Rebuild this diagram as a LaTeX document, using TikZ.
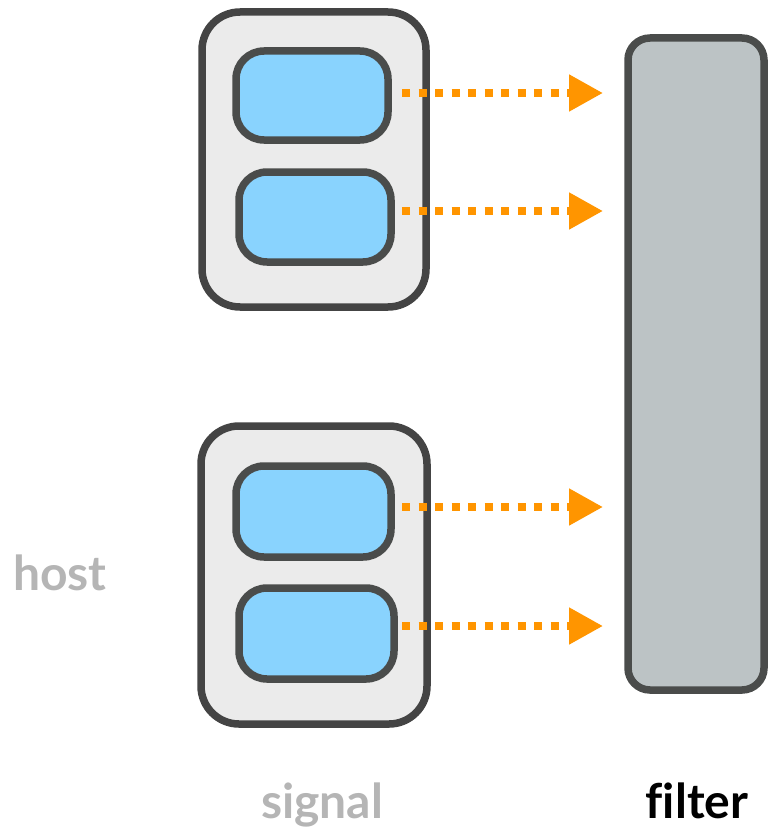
\documentclass[tikz,border=0pt]{standalone}
\usepackage{fontspec}
\setmainfont{Lato}[Ligatures=CommonOff]
\usetikzlibrary{arrows.meta,calc}
\definecolor{outerfill}{HTML}{EBEBEB}
\definecolor{outerdraw}{HTML}{444444}
\definecolor{innerfill}{HTML}{89D3FE}
\definecolor{innerdraw}{HTML}{4A4C4B}
\definecolor{filterfill}{HTML}{BCC3C5}
\definecolor{flowcol}{HTML}{FF9500}
\definecolor{labelgrey}{HTML}{B5B5B5}
\tikzset{
  hostbox/.style={draw=outerdraw, fill=outerfill, line width=7.5pt, rounded corners=38pt, inner sep=0pt, outer sep=0pt},
  chanbox/.style={draw=innerdraw, fill=innerfill, line width=7.5pt, rounded corners=28pt, inner sep=0pt, outer sep=0pt},
  filterbox/.style={draw=innerdraw, fill=filterfill, line width=7.5pt, rounded corners=22pt, inner sep=0pt, outer sep=0pt},
  flow/.style={draw=flowcol, line width=8pt, dash pattern=on 8pt off 8.5pt, shorten >=25pt,
    -{Triangle[length=34pt,width=35pt,flowcol]}},
  lbl/.style={font=\fontsize{48}{50}\selectfont\bfseries, anchor=base, inner sep=0pt},
}
\begin{document}
\begin{tikzpicture}[x=1pt,y=-1pt]
\useasboundingbox (0,0) rectangle (770,832);
\node[hostbox, minimum width=224pt, minimum height=295pt] (h1) at (314,159.5) {};
\node[hostbox, minimum width=226pt, minimum height=298pt] (h2) at (314,575) {};
\node[chanbox, minimum width=152pt, minimum height=89pt] (in1) at (312,95.5) {};
\node[chanbox, minimum width=152pt, minimum height=90pt] (in2) at (315,217) {};
\node[chanbox, minimum width=155pt, minimum height=91pt] (in3) at (313.5,511.5) {};
\node[chanbox, minimum width=155pt, minimum height=91pt] (in4) at (316.5,633.5) {};
\node[filterbox, minimum width=136pt, minimum height=652pt] (filter) at (696,364) {};
\coordinate (src) at (402,0);
\draw[flow] ($(in1.east -| src)+(0,-2.5)$) -- ($(in1.east -| filter.west)+(0,-2.5)$);
\draw[flow] ($(in2.east -| src)+(0,-6)$) -- ($(in2.east -| filter.west)+(0,-6)$);
\draw[flow] ($(in3.east -| src)+(0,-4.5)$) -- ($(in3.east -| filter.west)+(0,-4.5)$);
\draw[flow] ($(in4.east -| src)+(0,-7.5)$) -- ($(in4.east -| filter.west)+(0,-7.5)$);
\node[lbl, text=labelgrey] (hostlbl) at (60,590) {host};
\node[lbl, text=labelgrey] (siglbl) at (322,818) {signal};
\node[lbl, text=black] (filtlbl) at (697,818) {filter};
\end{tikzpicture}
\end{document}
